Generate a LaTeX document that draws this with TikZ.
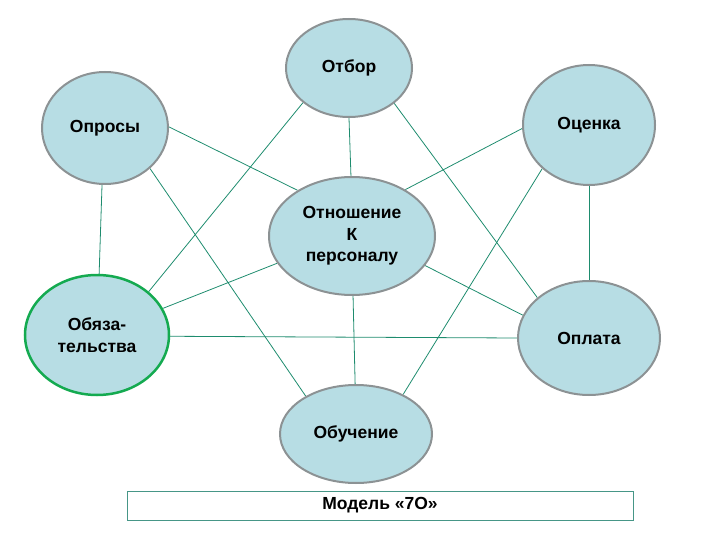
\documentclass[tikz,border=0pt]{standalone}
\usepackage{fontspec}
\setmainfont{Liberation Sans}
\usetikzlibrary{shapes.geometric}
\pgfdeclarelayer{background}
\pgfsetlayers{background,main}
\definecolor{fillc}{RGB}{183,221,228}
\definecolor{bordc}{RGB}{140,146,148}
\definecolor{linec}{RGB}{30,140,110}
\definecolor{greenb}{RGB}{20,170,80}
\definecolor{boxc}{RGB}{70,150,135}
\tikzset{
  bub/.style={ellipse, fill=fillc, draw=bordc, line width=2pt, inner sep=0pt,
    font=\fontsize{17.5}{21.5}\selectfont\bfseries, align=center},
  conn/.style={draw=linec, line width=0.8pt},
}
\begin{document}
\begin{tikzpicture}[x=1pt,y=-1pt]
\useasboundingbox (0,0) rectangle (720,540);
% nodes
\node[bub, minimum width=126pt, minimum height=98pt] (otbor) at (349,68) {Отбор};
\node[bub, minimum width=126pt, minimum height=112pt] (opros) at (105,128) {Опросы};
\node[bub, minimum width=132pt, minimum height=120pt] (ocen) at (589,125) {Оценка};
\node[bub, minimum width=166pt, minimum height=118pt] (otnosh) at (352,236) {Отношение\\К\\персоналу};
\node[bub, draw=greenb, line width=2.5pt, minimum width=144pt, minimum height=120pt] (obyaz) at (97,335) {Обяза-\\тельства};
\node[bub, minimum width=142pt, minimum height=114pt] (opl) at (589,338) {Оплата};
\node[bub, minimum width=152pt, minimum height=98pt] (obuch) at (356,434) {Обучение};
% connectors behind the nodes
\begin{pgfonlayer}{background}
\path[conn] (opros.1) -- (otnosh.140);
\path[conn] (opros.-42) -- (obuch.143);
\path[conn] (opros.-93) -- (obyaz.88);
\path[conn] (otbor.-143) -- (obyaz.40);
\path[conn] (otbor.-90) -- (otnosh.91);
\path[conn] (otbor.-38) -- (opl.142);
\path[conn] (ocen.-177) -- (otnosh.41);
\path[conn] (ocen.-137) -- (obuch.40);
\path[conn] (ocen.-90) -- (opl.90);
\path[conn] (otnosh.-22) -- (opl.161);
\path[conn] (otnosh.-160) -- (obyaz.22);
\path[conn] (otnosh.-89) -- (obuch.91);
\path[conn] (obyaz.-1) -- (opl.180);
\end{pgfonlayer}
% caption box
\node[draw=boxc, line width=1pt, minimum width=506pt, minimum height=29pt, inner sep=0pt,
  font=\fontsize{17.5}{21}\selectfont\bfseries] (cap) at (380,505.5) {Модель «7О»};
\end{tikzpicture}
\end{document}
